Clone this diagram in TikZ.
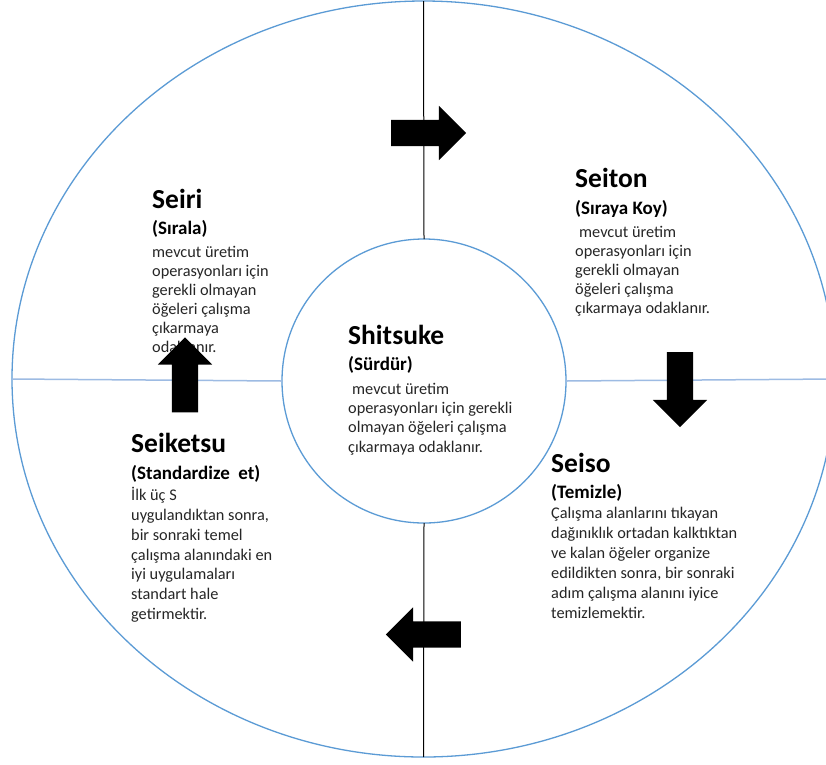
\documentclass[tikz,border=0pt]{standalone}
\usepackage{fontspec}
\setmainfont{Carlito}
\usetikzlibrary{positioning,shapes.geometric,shapes.arrows}

\definecolor{ringblue}{HTML}{5B9BD5}
\definecolor{axisblue}{HTML}{9DBBE3}
\definecolor{bodygray}{HTML}{262626}

\tikzset{
  ring/.style={draw=ringblue, line width=1.3pt, inner sep=0, outer sep=0},
  block/.style={anchor=north west, align=left, inner sep=0, text=bodygray,
    font=\fontsize{16.3}{#1}\selectfont},
  block/.default=19.6pt,
  bigarrow/.style={single arrow, fill=black, inner xsep=0, inner ysep=13pt,
    minimum height=75pt, single arrow head extend=14pt},
}
\newcommand{\ttl}[1]{{\fontsize{27.5}{19.6}\selectfont\bfseries\color{black}#1}}
\newcommand{\sub}[1]{{\fontsize{19}{19.6}\selectfont\bfseries\color{black}#1}}

\begin{document}
\begin{tikzpicture}[x=1pt, y=-1pt]
  \useasboundingbox (0,0) rectangle (826,764);
  \fill[white] (0,0) rectangle (826,764);

  \node[ring, ellipse, minimum width=823pt, minimum height=756pt] (outer) at (423.5,379) {};
  \node[ring, circle, minimum size=284pt] (inner) at (424,381) {};

  \draw[black, line width=1pt] (outer.north) -- (inner.north);
  \draw[black, line width=1pt] (inner.south) -- (outer.south);
  \draw[axisblue, line width=1.5pt] (outer.west) -- (inner.west);
  \draw[axisblue, line width=1.5pt] (inner.east) -- (outer.east);

  \node[block=19pt] (seiri) at (152,189) {\ttl{Seiri}\\[6.5pt]
    \sub{(Sırala)}\\[4.5pt]
    mevcut üretim\\
    operasyonları için\\
    gerekli olmayan\\
    öğeleri çalışma\\
    çıkarmaya\\
    odaklanır.};
  \node[block=19pt] (seiton) at (575,168) {\ttl{Seiton}\\[8pt]
    \sub{(Sıraya Koy)}\\[4pt]
    \hspace*{4pt}mevcut üretim\\
    operasyonları için\\
    gerekli olmayan\\
    öğeleri çalışma\\
    çıkarmaya odaklanır.};
  \node[block=19.3pt] (shitsuke) at (348,324.5) {\ttl{Shitsuke}\\[7pt]
    \sub{(Sürdür)}\\[4.5pt]
    \hspace*{4pt}mevcut üretim\\
    operasyonları için gerekli\\
    olmayan öğeleri çalışma\\
    çıkarmaya odaklanır.};
  \node[block=19.8pt] (seiketsu) at (131,433) {\ttl{Seiketsu}\\[7pt]
    \sub{(Standardize\ \ et)}\\[1.5pt]
    İlk üç S\\
    uygulandıktan sonra,\\
    bir sonraki temel\\
    çalışma alanındaki en\\
    iyi uygulamaları\\
    standart hale\\
    getirmektir.};
  \node[block=20pt] (seiso) at (551,452.5) {\ttl{Seiso}\\[6pt]
    \sub{(Temizle)}\\[0.5pt]
    Çalışma alanlarını tıkayan\\
    dağınıklık ortadan kalktıktan\\
    ve kalan öğeler organize\\
    edildikten sonra, bir sonraki\\
    adım çalışma alanını iyice\\
    temizlemektir.};

  \node[bigarrow] (arrR) at (422,133) {};
  \node[bigarrow, rotate=-90] (arrD) at (680,383) {};
  \node[bigarrow, rotate=180] (arrL) at (430,634.5) {};
  \node[bigarrow, rotate=90] (arrU) at (185,381.5) {};
\end{tikzpicture}
\end{document}
